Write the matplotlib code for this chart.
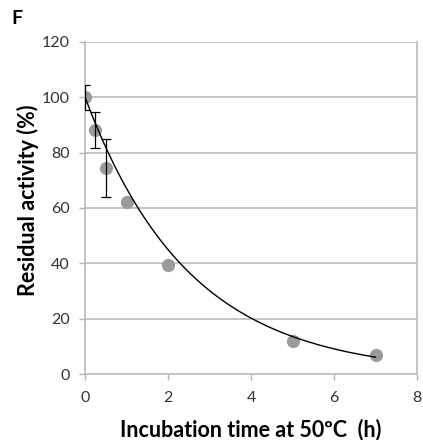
import numpy as np
import matplotlib
matplotlib.use("Agg")
import matplotlib.pyplot as plt

# residual activity after incubation at 50 C
time_h = [0, 0.25, 0.5, 1, 2, 5, 7]
activity = [100, 88, 74.5, 62, 39.5, 12, 7]
activity_err = [4.5, 6.5, 10.5, 0, 0, 0, 0]

# exponential decay fit y = a * exp(-k t)
fit_a = 100.0
fit_k = 0.40

x_ticks = [0, 2, 4, 6, 8]
y_ticks = [0, 20, 40, 60, 80, 100, 120]

plt.rcParams['font.family'] = ['Lato', 'DejaVu Sans']

fig = plt.figure(figsize=(4.23, 4.40), dpi=100)
ax = fig.add_axes([0.201, 0.15, 0.785, 0.755])

grid_c = "#b4b4b4"
for y in y_ticks[1:]:
    ax.axhline(y, color=grid_c, lw=1.1, zorder=0)

t = np.linspace(0, 7, 200)
ax.plot(t, fit_a * np.exp(-fit_k * t), color="black", lw=1.0, zorder=3)

ax.plot(time_h, activity, "o", color="#9a9a9a", ms=9.5, mec="none", zorder=2)
err_idx = [i for i, e in enumerate(activity_err) if e > 0]
ax.errorbar([time_h[i] for i in err_idx], [activity[i] for i in err_idx],
            yerr=[activity_err[i] for i in err_idx], fmt="none", ecolor="black",
            elinewidth=0.9, capsize=3.5, capthick=0.9, zorder=4)

ax.set_xlim(0, 8)
ax.set_ylim(0, 120)
ax.set_xticks(x_ticks)
ax.set_yticks(y_ticks)

ax.spines["top"].set_visible(False)
for s in ("left", "bottom", "right"):
    ax.spines[s].set_color(grid_c)
    ax.spines[s].set_linewidth(1.1)
ax.tick_params(axis="both", colors=grid_c, labelcolor="#333333", labelsize=11.5,
               length=4, width=1.0)
ax.tick_params(axis="x", pad=8)
ax.tick_params(axis="y", pad=7)

ax.set_xlabel("Incubation time at 50ºC  (h)", fontsize=15.5, fontweight="bold")
ax.set_ylabel("Residual activity (%)", fontsize=15.5, fontweight="bold")
ax.xaxis.set_label_coords(0.5, -0.135)
ax.yaxis.set_label_coords(-0.14, 0.524)

fig.text(0.028, 0.959, "F", fontsize=14, fontweight="bold", va="center")

fig.savefig("out.png", dpi=100)
